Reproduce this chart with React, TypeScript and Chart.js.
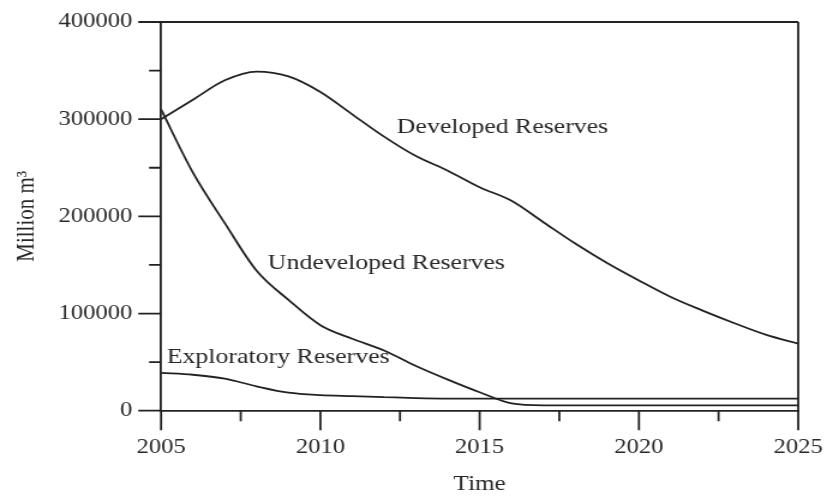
import { useEffect, useRef } from "react";
import { Chart, registerables } from "chart.js";

Chart.register(...registerables);

// Reserve volumes (million m³) per year
const years = [
  2005, 2006, 2007, 2008, 2009, 2010, 2011, 2012, 2013, 2014, 2015,
  2016, 2017, 2018, 2019, 2020, 2021, 2022, 2023, 2024, 2025,
];
const developed = [
  300000, 320000, 340000, 349000, 344000, 328000, 305000, 282000, 262000, 247000, 230000,
  216000, 194000, 172000, 152000, 134000, 117000, 103000, 90000, 78000, 69000,
];
const undeveloped = [
  310000, 245000, 193000, 144000, 114000, 88000, 74000, 62000, 46000, 32000, 19000,
  7500, 5500, 5500, 5500, 5500, 5500, 5500, 5500, 5500, 5500,
];
const exploratory = [
  39000, 37000, 33000, 25000, 18500, 16000, 15000, 14000, 13000, 12500, 12500,
  12500, 12500, 12500, 12500, 12500, 12500, 12500, 12500, 12500, 12500,
];

// In-plot series labels: text, anchor year, anchor value (text baseline)
const seriesNames = ["Developed Reserves", "Undeveloped Reserves", "Exploratory Reserves"];
const labelYears = [2012.4, 2008.35, 2005.18];
const labelValues = [285700, 145900, 49100];

const xAxisTitle = "Time";
const yAxisTitle = "Million m³";

// Drawing surface is narrower than the displayed box: the canvas is stretched horizontally.
const DRAW_W = 689;
const DRAW_H = 497;
const SHOW_W = 827;

const INK = "#222222";
const TEXT = "#282828";
const SERIF = "'Liberation Serif', 'Times New Roman', serif";
const LINE_W = 1.8;

const frameAndTicks = {
  id: "frameAndTicks",
  afterDraw(chart: any) {
    const { ctx, chartArea, scales } = chart;
    const xs = scales.x;
    const ys = scales.y;
    ctx.save();
    ctx.strokeStyle = INK;
    ctx.lineWidth = LINE_W;
    ctx.lineCap = "butt";
    ctx.beginPath();
    // top and right edges of the frame
    ctx.moveTo(chartArea.left, chartArea.top);
    ctx.lineTo(chartArea.right, chartArea.top);
    ctx.moveTo(chartArea.right, chartArea.top);
    ctx.lineTo(chartArea.right, chartArea.bottom);
    // y tick marks, pointing outward
    for (const t of ys.ticks) {
      const py = ys.getPixelForValue(t.value);
      const len = t.value % 100000 === 0 ? 19 : 10;
      ctx.moveTo(chartArea.left - len, py);
      ctx.lineTo(chartArea.left, py);
    }
    // x tick marks, pointing down
    for (const t of xs.ticks) {
      const px = xs.getPixelForValue(t.value);
      const len = t.value % 5 === 0 ? 19.5 : 10.5;
      ctx.moveTo(px, chartArea.bottom);
      ctx.lineTo(px, chartArea.bottom + len);
    }
    ctx.stroke();
    ctx.restore();
  },
};

const seriesLabels = {
  id: "seriesLabels",
  afterDatasetsDraw(chart: any) {
    const { ctx, scales } = chart;
    ctx.save();
    ctx.fillStyle = TEXT;
    ctx.font = `21.5px ${SERIF}`;
    ctx.textAlign = "left";
    ctx.textBaseline = "alphabetic";
    seriesNames.forEach((name, i) => {
      ctx.fillText(
        name,
        scales.x.getPixelForValue(labelYears[i]),
        scales.y.getPixelForValue(labelValues[i])
      );
    });
    ctx.restore();
  },
};

function lineSet(label: string, values: number[]) {
  return {
    label,
    data: years.map((yr, i) => ({ x: yr, y: values[i] })),
    borderColor: INK,
    borderWidth: LINE_W,
    pointRadius: 0,
    fill: false,
    cubicInterpolationMode: "monotone" as const,
  };
}

export default function App() {
  const canvasRef = useRef<HTMLCanvasElement | null>(null);

  useEffect(() => {
    const canvas = canvasRef.current;
    if (!canvas) return;
    const chart = new Chart(canvas, {
      type: "line",
      data: {
        datasets: [
          lineSet(seriesNames[0], developed),
          lineSet(seriesNames[1], undeveloped),
          lineSet(seriesNames[2], exploratory),
        ],
      },
      options: {
        animation: false,
        responsive: false,
        devicePixelRatio: 1,
        layout: { padding: { top: 22, right: 24, bottom: 0, left: 0 } },
        plugins: {
          legend: { display: false },
          tooltip: { enabled: false },
        },
        scales: {
          x: {
            type: "linear",
            min: 2005,
            max: 2025,
            afterFit: (s: any) => {
              s.height = 86.3;
              s.paddingLeft = 0;
              s.paddingRight = 0;
            },
            border: { display: true, color: INK, width: LINE_W },
            grid: { display: true, drawOnChartArea: false, drawTicks: false },
            ticks: {
              stepSize: 2.5,
              autoSkip: false,
              maxRotation: 0,
              padding: 25,
              color: TEXT,
              font: { family: SERIF, size: 20.5 },
              callback: (v: any) => (Number(v) % 5 === 0 ? String(v) : ""),
            },
            title: {
              display: true,
              text: xAxisTitle,
              color: TEXT,
              font: { family: SERIF, size: 21 },
              padding: { top: 0, bottom: 0 },
            },
          },
          y: {
            type: "linear",
            min: 0,
            max: 400000,
            afterFit: (s: any) => {
              s.width = 134.2;
              s.paddingTop = 0;
              s.paddingBottom = 0;
            },
            border: { display: true, color: INK, width: LINE_W },
            grid: { display: true, drawOnChartArea: false, drawTicks: false },
            ticks: {
              stepSize: 50000,
              autoSkip: false,
              padding: 24,
              color: TEXT,
              font: { family: SERIF, size: 20.5 },
              callback: (v: any) => (Number(v) % 100000 === 0 ? String(v) : ""),
            },
            title: {
              display: true,
              text: yAxisTitle,
              color: TEXT,
              font: { family: SERIF, size: 21 },
              padding: { top: 9.5, bottom: 0 },
            },
          },
        },
      },
      plugins: [frameAndTicks, seriesLabels],
    });
    return () => chart.destroy();
  }, []);

  return (
    <div
      style={{
        position: "fixed",
        left: 0,
        top: 0,
        width: SHOW_W,
        height: DRAW_H,
        background: "#ffffff",
      }}
    >
      <canvas
        ref={canvasRef}
        width={DRAW_W}
        height={DRAW_H}
        style={{ width: `${SHOW_W}px`, height: `${DRAW_H}px`, display: "block" }}
      />
    </div>
  );
}
